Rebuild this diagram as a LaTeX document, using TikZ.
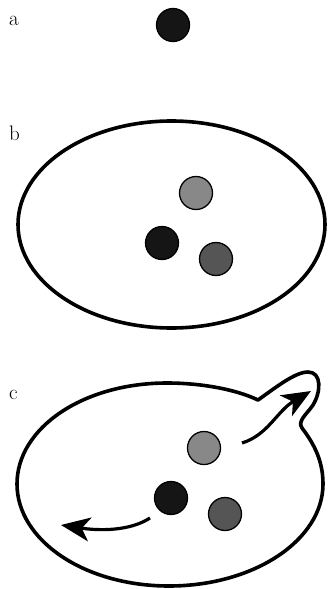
\documentclass[tikz,border=0pt]{standalone}
\usepackage{xcolor}
\usepackage{tikz}
\usetikzlibrary{arrows.meta}

\definecolor{dotblack}{HTML}{151515}
\definecolor{dotlight}{HTML}{888888}
\definecolor{dotdark}{HTML}{555555}

\begin{document}
\begin{tikzpicture}[x=1pt,y=-1pt,
  every node/.style={font=\fontsize{21}{24}\selectfont},
  lbl/.style={anchor=base west,inner sep=0pt},
  dot/.style={circle,draw=black,line width=1.3pt,minimum size=33pt,inner sep=0pt},
  cell/.style={line width=3.6pt},
  mv/.style={-{Stealth[length=29pt,width=24pt,inset=8pt]},line width=3.2pt}]
\useasboundingbox (0,0) rectangle (328,589);
% a
\node[lbl] (la) at (9,25) {a};
\node[dot,fill=dotblack] (ka) at (173,25) {};
% b
\node[lbl] (lb) at (9,140) {b};
\draw[cell] (171.5,224.5) ellipse (153.5 and 103.5);
\node[dot,fill=dotlight] (gb) at (196,193) {};
\node[dot,fill=dotblack] (kb) at (162,243) {};
\node[dot,fill=dotdark] (db) at (216,259) {};
% c
\node[lbl] (lc) at (9,399) {c};
\draw[cell,line join=round] (258,400) .. controls (275,388) and (295,372) .. (308,372)
  .. controls (322,372) and (321,392) .. (313,405)
  .. controls (307,414) and (297,421) .. (302,428)
  .. controls (315,445) and (323,462) .. (323,484)
  .. controls (323,540) and (254,586) .. (169,586)
  .. controls (84,586) and (17,540) .. (17,484)
  .. controls (17,428) and (83,383) .. (167,383)
  .. controls (200,383) and (235,389) .. (258,400) -- cycle;
\node[dot,fill=dotlight] (gc) at (204,448) {};
\node[dot,fill=dotblack] (kc) at (171,498) {};
\node[dot,fill=dotdark] (dc) at (225,514) {};
\coordinate (s1) at (242,443);
\coordinate (e1) at (311,391);
\coordinate (s2) at (150,518);
\coordinate (e2) at (61,525);
\draw[mv] (s1) .. controls (268,435) and (277,411) .. (e1);
\draw[mv] (s2) .. controls (130,531) and (100,531) .. (e2);
\end{tikzpicture}
\end{document}
